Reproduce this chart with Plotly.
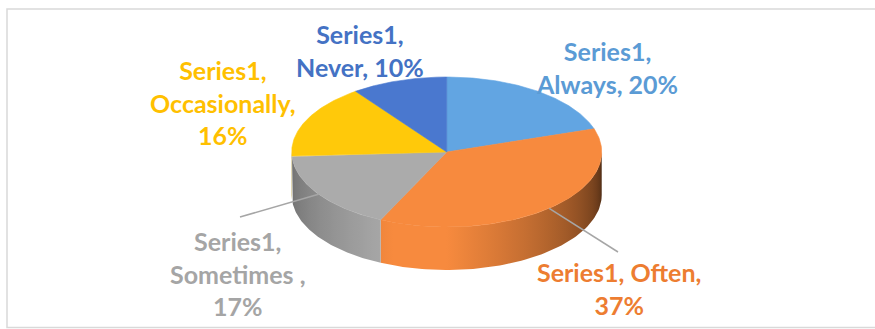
import numpy as np
import plotly.graph_objects as go

# ---- data -------------------------------------------------------------
series_name = "Series1"
categories = ["Always", "Often", "Sometimes ", "Occasionally", "Never"]
values = [20, 37, 17, 16, 10]
top_colors = ["#62A5E2", "#F78A3E", "#ABABAB", "#FFC90A", "#4A78CF"]
label_colors = ["#5B9BD5", "#ED7D31", "#A5A5A5", "#FFC000", "#4472C4"]
label_formats = [
    "{s},<br>{c}, {p}",
    "{s}, {c},<br>{p}",
    "{s},<br>{c},<br>{p}",
    "{s},<br>{c},<br>{p}",
    "{s},<br>{c}, {p}",
]

# ---- page geometry (pixel-like data space) ------------------------------
W, H = 875, 329
CX, CY = 446.7, 152.0   # centre of the top face
RX, RY = 155.0, 75.0    # radii of the tilted disc
DEPTH = 43.0            # thickness of the disc

# label block centres and optional leader-line ends
label_pos = [(607, 67), (619, 288), (238, 273), (223, 102), (360, 50)]
leader_end = [None, (618, 252), (240, 217), None, None]


def rim(theta_deg, dy=0.0):
    t = np.radians(theta_deg)
    return CX + RX * np.sin(t), CY - RY * np.cos(t) + dy


def shade(theta):
    """Brightness factor for the side wall at angle theta (90..270)."""
    if theta <= 180:
        return 0.28 + 0.72 * ((theta - 90) / 90.0) ** 0.8
    if theta <= 200:
        return 1.0
    return 1.0 - 0.36 * (theta - 200) / 70.0


def scale_hex(hex_color, f):
    h = hex_color.lstrip("#")
    r, g, b = (int(h[i:i + 2], 16) for i in (0, 2, 4))
    return "rgb({},{},{})".format(*(int(round(min(255, c * f))) for c in (r, g, b)))


total = float(sum(values))
bounds = np.concatenate([[0.0], np.cumsum(values) / total * 360.0])

fig = go.Figure()

# side walls (front half of the disc)
for i, v in enumerate(values):
    a0, a1 = max(bounds[i], 90.0), min(bounds[i + 1], 270.0)
    if a1 <= a0:
        continue
    th = np.linspace(a0, a1, 80)
    xt, yt = rim(th)
    xb, yb = rim(th[::-1], DEPTH)
    xs = np.concatenate([xt, xb, xt[:1]])
    ys = np.concatenate([yt, yb, yt[:1]])
    # horizontal gradient following the wall's lighting
    samp = np.linspace(a0, a1, 24)
    sx, _ = rim(samp)
    order = np.argsort(sx)
    xmin, xmax = float(sx.min()), float(sx.max())
    span = max(xmax - xmin, 1e-6)
    cs = []
    for k in order:
        pos = float((sx[k] - xmin) / span)
        cs.append([pos, scale_hex(top_colors[i], shade(samp[k]))])
    cs[0][0], cs[-1][0] = 0.0, 1.0
    fig.add_trace(go.Scatter(
        x=xs, y=ys, mode="lines", fill="toself",
        line=dict(width=0, color="rgba(0,0,0,0)"),
        fillgradient=dict(type="horizontal", start=xmin, stop=xmax, colorscale=cs),
        hoverinfo="skip", showlegend=False,
    ))

# top face wedges
for i, v in enumerate(values):
    th = np.linspace(bounds[i], bounds[i + 1], 120)
    xa, ya = rim(th)
    xs = np.concatenate([[CX], xa, [CX]])
    ys = np.concatenate([[CY], ya, [CY]])
    fig.add_trace(go.Scatter(
        x=xs, y=ys, mode="lines", fill="toself",
        fillcolor=top_colors[i], line=dict(width=0.6, color=top_colors[i]),
        hoverinfo="text", text=f"{categories[i].strip()}: {v}%",
        showlegend=False,
    ))

# data labels and leader lines
for i, v in enumerate(values):
    pct = f"{round(v / total * 100)}%"
    txt = label_formats[i].format(s=series_name, c=categories[i], p=pct)
    lx, ly = label_pos[i]
    fig.add_annotation(
        x=lx, y=ly, text=txt, showarrow=False, align="center",
        xanchor="center", yanchor="middle",
        font=dict(family="Lato", size=25, color=label_colors[i], weight="bold"),
    )
    if leader_end[i] is not None:
        mid = (bounds[i] + bounds[i + 1]) / 2.0
        px, py = rim(mid)
        ex, ey = leader_end[i]
        fig.add_shape(type="line", x0=px, y0=py, x1=ex, y1=ey,
                      line=dict(color="#A6A6A6", width=1.5), layer="above")

# chart area border
fig.add_shape(type="rect", x0=7, y0=9, x1=W + 20, y1=327.5,
              line=dict(color="#D9D9D9", width=1.5), layer="below")

fig.update_layout(
    width=W, height=H, autosize=False,
    margin=dict(l=0, r=0, t=0, b=0, pad=0),
    paper_bgcolor="white", plot_bgcolor="white",
    xaxis=dict(range=[0, W], visible=False, fixedrange=True),
    yaxis=dict(range=[H, 0], visible=False, fixedrange=True),
    showlegend=False,
)

fig.write_html("out.html")
